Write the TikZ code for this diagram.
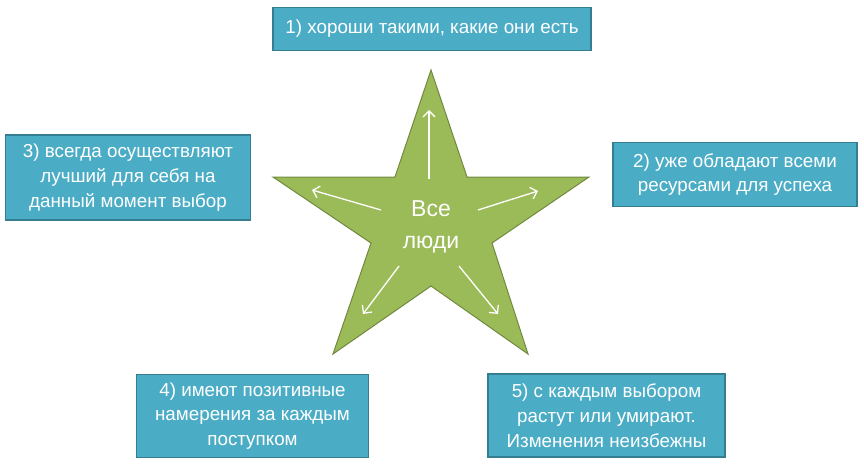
\documentclass[tikz,border=0pt]{standalone}
\usepackage{fontspec}
\setmainfont{Liberation Sans}
\usetikzlibrary{arrows.meta}
\definecolor{boxfill}{HTML}{4BACC6}
\definecolor{boxline}{HTML}{357D91}
\definecolor{starfill}{HTML}{9BBB59}
\definecolor{starline}{HTML}{71893F}
\tikzset{
  infobox/.style={draw=boxline, line width=1.5pt, fill=boxfill, text=white,
    align=center, inner sep=0pt, font=\fontsize{18.8}{24.8}\selectfont},
  ray/.style={draw=white, line width=1.3pt, -{Straight Barb[length=6pt,width=12pt]}}
}
\begin{document}
\begin{tikzpicture}[x=1pt,y=-1pt]
\useasboundingbox (0,0) rectangle (864,466);
% star
\coordinate (sT) at (431,70);
\coordinate (sIR) at (467,177);
\coordinate (sR) at (589,177);
\coordinate (sMR) at (492,243);
\coordinate (sBR) at (528,354);
\coordinate (sB) at (431,286);
\coordinate (sBL) at (333,354);
\coordinate (sML) at (371,243);
\coordinate (sL) at (273,177);
\coordinate (sIL) at (395,177);
\draw[fill=starfill, draw=starline, line width=1pt, line join=miter]
  (sT) -- (sIR) -- (sR) -- (sMR) -- (sBR) -- (sB) -- (sBL) -- (sML) -- (sL) -- (sIL) -- cycle;
\node[text=white, align=center, font=\fontsize{23}{32}\selectfont] (center) at (431,227) {Все\\люди};
% arrows
\coordinate (aUs) at (429,179); \coordinate (aUe) at (429,110);
\coordinate (aLs) at (381,210); \coordinate (aLe) at (312,190);
\coordinate (aRs) at (478,210); \coordinate (aRe) at (538,191);
\coordinate (aBLs) at (399,266); \coordinate (aBLe) at (363,314);
\coordinate (aBRs) at (459,266); \coordinate (aBRe) at (498,314);
\draw[ray] (aUs) -- (aUe);
\draw[ray] (aLs) -- (aLe);
\draw[ray] (aRs) -- (aRe);
\draw[ray] (aBLs) -- (aBLe);
\draw[ray] (aBRs) -- (aBRe);
% boxes
\node[infobox, minimum width=318pt, minimum height=43pt] (b1) at (432,29) {1) хороши такими, какие они есть};
\node[infobox, minimum width=244pt, minimum height=64pt] (b2) at (735,174.5) {2) уже обладают всеми\\ресурсами для успеха};
\node[infobox, minimum width=245pt, minimum height=85pt] (b3) at (128,177.5) {3) всегда осуществляют\\лучший для себя на\\данный момент выбор};
\node[infobox, minimum width=232pt, minimum height=83pt] (b4) at (252.5,416) {4) имеют позитивные\\намерения за каждым\\поступком};
\node[infobox, minimum width=237pt, minimum height=83pt] (b5) at (606.5,415.5) {5) с каждым выбором\\растут или умирают.\\Изменения неизбежны};
\end{tikzpicture}
\end{document}
